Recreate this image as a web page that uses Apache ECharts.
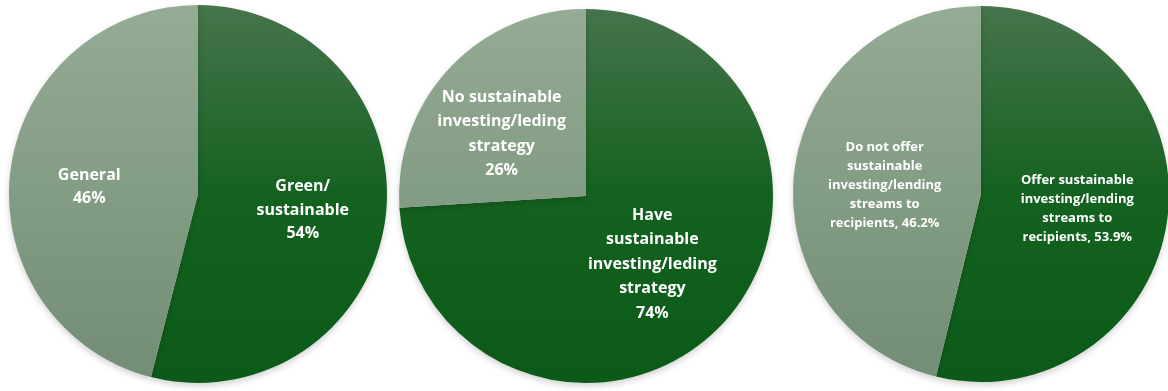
<!DOCTYPE html>
<html>
<head>
<meta charset="utf-8">
<script src="https://cdn.jsdelivr.net/npm/echarts@6/dist/echarts.min.js"></script>
<style>
  html, body { margin: 0; padding: 0; background: #ffffff; }
  #chart { width: 1168px; height: 391px; }
</style>
</head>
<body>
<div id="chart"></div>
<script>
// Share of funds by type
const fundTypes = ['Green/\nsustainable', 'General'];
const fundShares = [54, 46];

// Institutions with a sustainable investing/lending strategy
const strategyTypes = ['Have\nsustainable\ninvesting/leding\nstrategy', 'No sustainable\ninvesting/leding\nstrategy'];
const strategyShares = [74, 26];

// Institutions offering sustainable streams to recipients
const streamTypes = ['Offer sustainable\ninvesting/lending\nstreams to\nrecipients', 'Do not offer\nsustainable\ninvesting/lending\nstreams to\nrecipients'];
const streamShares = [53.9, 46.2];

const chart = echarts.init(document.getElementById('chart'));

// vertical fills shared by every pie (page coordinates)
const darkFill = new echarts.graphic.LinearGradient(0, 6, 0, 384, [
  { offset: 0, color: '#46744c' },
  { offset: 0.5, color: '#14621f' },
  { offset: 1, color: '#0c5a19' }
], true);
const greyFill = new echarts.graphic.LinearGradient(0, 6, 0, 384, [
  { offset: 0, color: '#94ab94' },
  { offset: 1, color: '#728d74' }
], true);
const fills = [darkFill, greyFill];

function pieSeries(names, values, center, radius, fontSize, lineHeight, fmt, offsets) {
  return {
    type: 'pie',
    center: center,
    radius: radius,
    startAngle: 90,
    clockwise: true,
    silent: true,
    animation: false,
    label: {
      show: true,
      position: 'inside',
      color: '#ffffff',
      fontFamily: '"Open Sans", "Noto Sans", sans-serif',
      fontWeight: 'bold',
      fontSize: fontSize,
      lineHeight: lineHeight,
      align: 'center',
      formatter: fmt
    },
    labelLine: { show: false },
    itemStyle: {
      borderWidth: 0,
      shadowBlur: 6,
      shadowOffsetY: 3,
      shadowColor: 'rgba(0,0,0,0.18)'
    },
    data: names.map((n, i) => ({
      name: n,
      value: values[i],
      itemStyle: { color: fills[i] },
      label: { offset: offsets[i] }
    }))
  };
}

chart.setOption({
  backgroundColor: '#ffffff',
  series: [
    pieSeries(fundTypes, fundShares, [198, 194], 189, 16, 23.5,
      p => p.name + '\n' + p.value + '%', [[8, 4], [-12, 5]]),
    pieSeries(strategyTypes, strategyShares, [586, 196], 187, 16, 24.5,
      p => p.name + '\n' + p.value + '%', [[-4, 2], [-14, 4]]),
    pieSeries(streamTypes, streamShares, [981, 194], 188, 13, 19,
      p => p.name + ', ' + p.value.toFixed(1) + '%', [[0, 3], [0, 3]])
  ]
});
</script>
</body>
</html>
